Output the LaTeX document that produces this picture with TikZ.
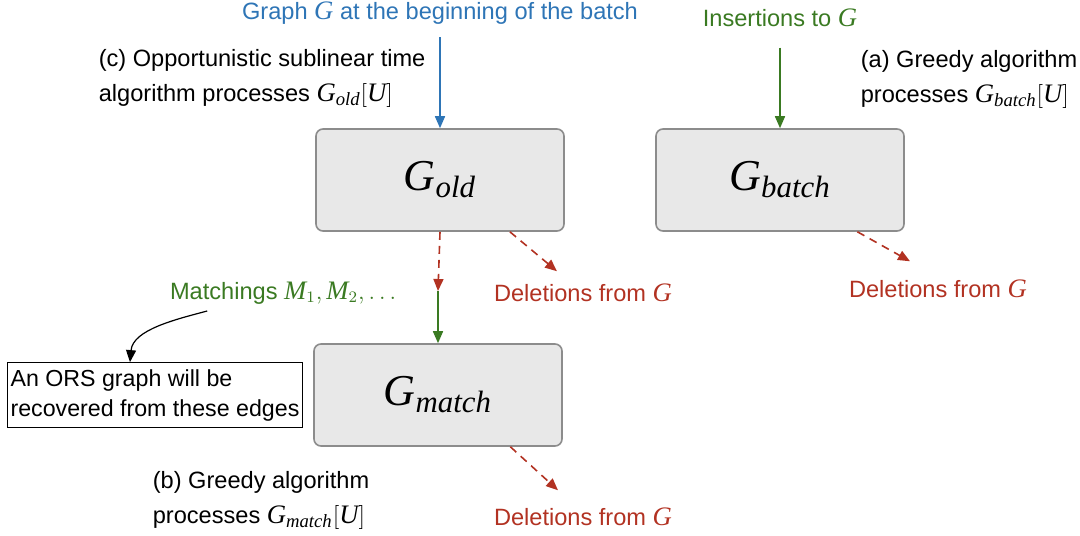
\documentclass[tikz,border=0pt]{standalone}
\usepackage{amsmath}
\usepackage[no-math]{fontspec}
\setmainfont{Liberation Sans}
\newfontfamily\serifit{Liberation Serif}[NFSSFamily=libserif, Scale=1.13]
\DeclareSymbolFont{letters}{TU}{libserif}{m}{it}
\mathcode`,="602C
\mathchardef\ldotp="602E
\usetikzlibrary{arrows.meta}
\usetikzlibrary{calc,positioning}

\definecolor{gblue}{RGB}{46,117,182}
\definecolor{ggreen}{RGB}{58,122,34}
\definecolor{gred}{RGB}{178,50,34}
\definecolor{gfill}{RGB}{232,232,232}
\definecolor{gline}{RGB}{140,140,140}

\tikzset{
  gbox/.style={draw=gline, fill=gfill, rounded corners=3.5pt, minimum width=124pt, minimum height=51pt, font=\fontsize{19.5}{24}\selectfont},
  note/.style={align=left, inner sep=0pt, font=\fontsize{11.8}{17.5}\selectfont},
  tag/.style={inner sep=0pt, font=\fontsize{11.8}{13}\selectfont},
  del/.style={->, gred, dashed, thick, dash pattern=on 4pt off 3pt},
}

\begin{document}
\begin{tikzpicture}[x=0.5pt, y=0.5pt, >={Triangle[length=6pt,width=5pt]}, thick]

    \useasboundingbox (0,0) rectangle (1080,-535);

    % the three graphs
    \node[gbox] (gold)   at (440,-180) {$G_{old}$};
    \node[gbox] (gbatch) at (780,-180) {$G_{batch}$};
    \node[gbox] (gmatch) at (438,-395) {$G_{match}$};

    % incoming edges
    \node[tag, gblue]  (start)  at (440,-13) {Graph $G$ at the beginning of the batch};
    \node[tag, ggreen] (insert) at (780,-18) {Insertions to $G$};
    \draw[->, gblue]  ([yshift=-6pt]start.south) -- (gold.north);
    \draw[->, ggreen] ([yshift=-10pt]insert.south) -- (gbatch.north);

    % descriptions
    \node[note, anchor=west] (oppo) at (98,-78)
      {(c) Opportunistic sublinear time\\algorithm processes $G_{old}[U]$};
    \node[note, anchor=west] (greedya) at (860,-79)
      {(a) Greedy algorithm\\processes $G_{batch}[U]$};
    \node[note, anchor=west] (greedyb) at (152,-500)
      {(b) Greedy algorithm\\processes $G_{match}[U]$};

    % old -> match
    \coordinate (mid) at (438,-291);
    \draw[del] (gold.south) -- (mid);
    \draw[->, ggreen] (mid) -- (gmatch.north);
    \node[tag, ggreen, anchor=east] (matchings) at (401,-293) {Matchings $M_1, M_2, \dots$};

    % deletions
    \node[tag, gred] (delold)   at (583,-293) {Deletions from $G$};
    \node[tag, gred] (delbatch) at (938,-289) {Deletions from $G$};
    \node[tag, gred] (delmatch) at (583,-517) {Deletions from $G$};
    \draw[del] ($(gold.south west)!0.78!(gold.south east)$) -- ($(delold.north)+(-26,12)$);
    \draw[del] ($(gbatch.south west)!0.81!(gbatch.south east)$) -- ($(delbatch.north)+(-28,18)$);
    \draw[del] ($(gmatch.south west)!0.79!(gmatch.south east)$) -- ($(delmatch.north)+(-25,17)$);

    % ORS note
    \node[draw, thin, align=left, inner sep=1.5pt, minimum width=147.5pt, minimum height=32.5pt,
          font=\fontsize{11.6}{15}\selectfont] (ors) at (155,-395)
      {An ORS graph will be\\recovered from these edges};
    \draw[->, semithick] ($(matchings.south west)+(38,-6)$) to[out=195, in=85, looseness=0.9] ($(ors.north)+(-25,0)$);

\end{tikzpicture}
\end{document}
